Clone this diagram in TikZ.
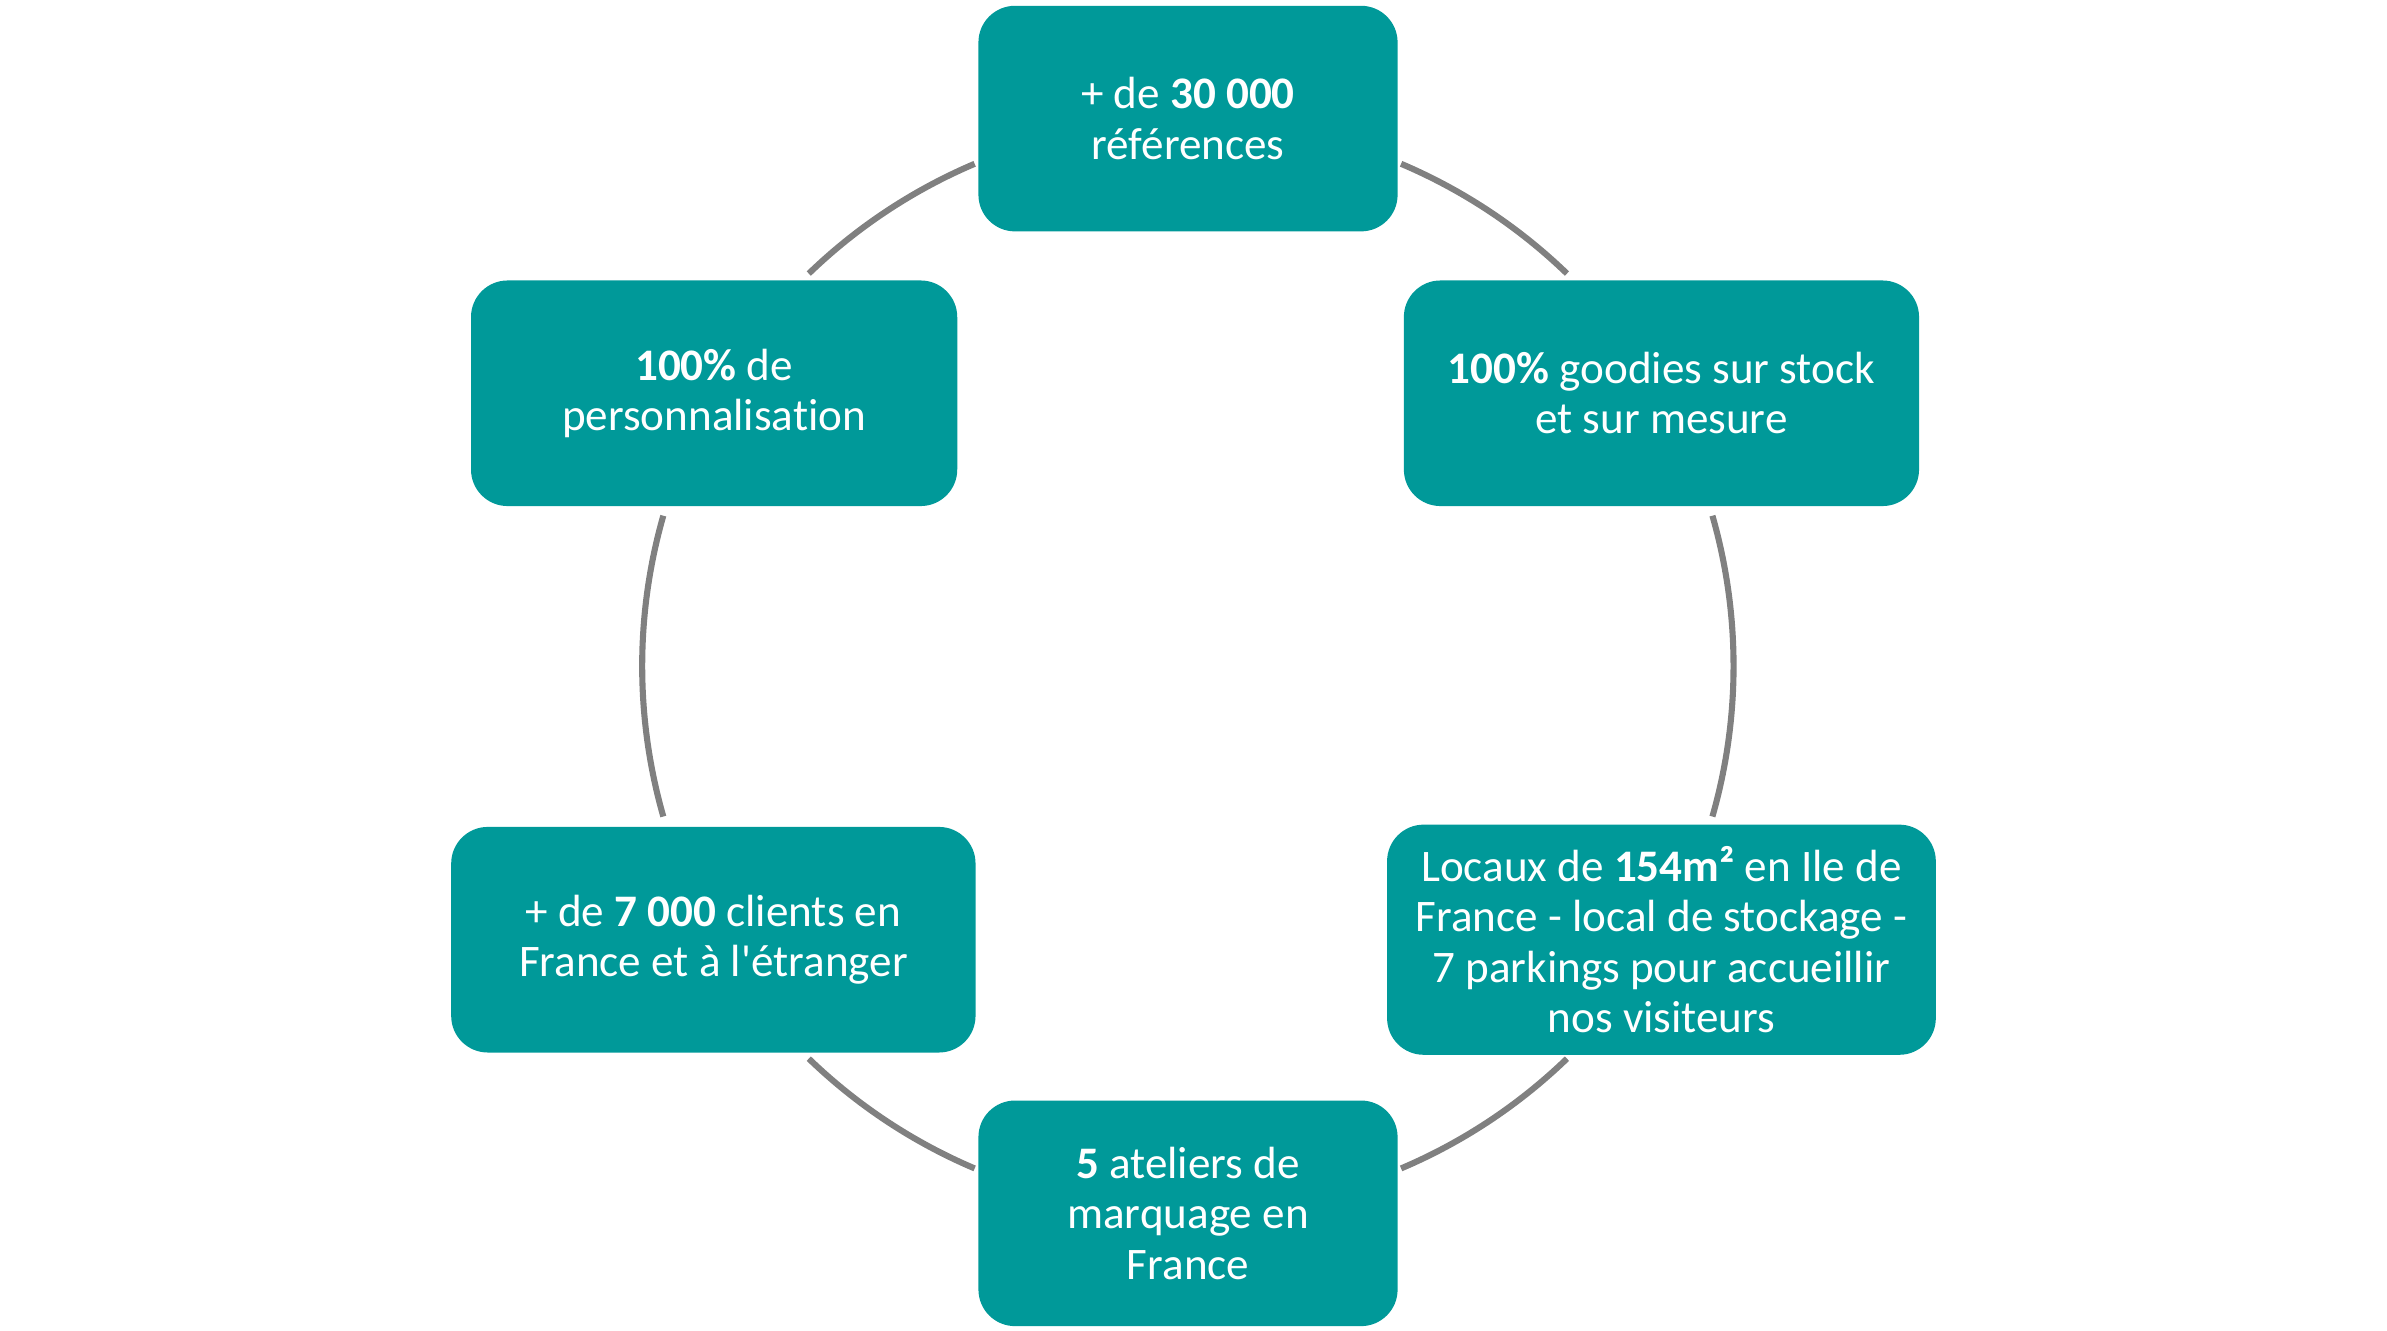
\documentclass[tikz,border=0pt]{standalone}
\usepackage{fontspec}
\setmainfont{Carlito}[Ligatures={NoCommon}]
\definecolor{teal1}{RGB}{0,153,153}
\definecolor{arcgray}{RGB}{128,128,128}
\begin{document}
\begin{tikzpicture}[x=1pt,y=-1pt,
  card/.style={fill=teal1, draw=none, rounded corners=24pt, inner sep=0pt,
    text=white, align=center, font=\fontsize{29.6}{33}\selectfont},
  ring/.style={draw=arcgray, line width=4pt}]
\useasboundingbox (0,0) rectangle (1566,872.6);
\coordinate (c) at (779.3,437);
% arcs
\draw[ring] ([shift={(67:358pt)}]c) arc[start angle=67, end angle=46, radius=358pt];
\draw[ring] ([shift={(16:358pt)}]c) arc[start angle=16, end angle=-16, radius=358pt];
\draw[ring] ([shift={(-46:358pt)}]c) arc[start angle=-46, end angle=-67, radius=358pt];
\draw[ring] ([shift={(-113:358pt)}]c) arc[start angle=-113, end angle=-134, radius=358pt];
\draw[ring] ([shift={(164:358pt)}]c) arc[start angle=164, end angle=196, radius=358pt];
\draw[ring] ([shift={(113:358pt)}]c) arc[start angle=113, end angle=134, radius=358pt];
% boxes
\node[card, minimum width=275pt, minimum height=148pt] (top) at (779.4,77.8) {+ de \textbf{30 000}\\références};
\node[card, minimum width=338pt, minimum height=148pt] (ur) at (1090,258) {\textbf{100\%} goodies sur stock\\et sur mesure};
\node[card, minimum width=360pt, minimum height=151pt] (lr) at (1090,616.5) {Locaux de \textbf{154m²} en Ile de\\France - local de stockage -\\7 parkings pour accueillir\\nos visiteurs};
\node[card, minimum width=275pt, minimum height=148pt] (bot) at (779.4,796) {\textbf{5} ateliers de\\marquage en\\France};
\node[card, minimum width=344pt, minimum height=148pt] (ll) at (468,616.5) {+ de \textbf{7 000} clients en\\France et à l\textquotesingle étranger};
\node[card, minimum width=319pt, minimum height=148pt] (ul) at (468.5,258) {\textbf{100\%} de\\personnalisation};
\end{tikzpicture}
\end{document}
